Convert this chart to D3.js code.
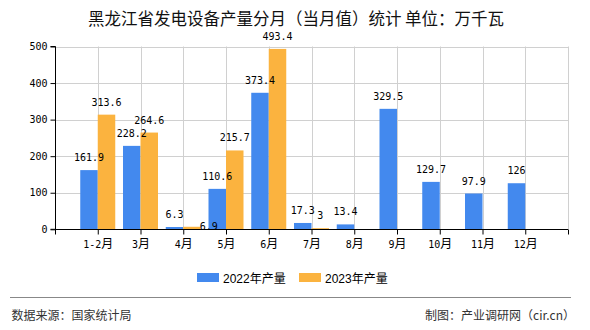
<!DOCTYPE html>
<html>
<head>
<meta charset="utf-8">
<script src="https://cdn.jsdelivr.net/npm/d3@7/dist/d3.min.js"></script>
<style>
  html, body { margin: 0; padding: 0; background: #fff; }
  svg { display: block; }
</style>
</head>
<body>
<svg id="chart" width="590" height="330"></svg>
<script>
// ---- data ----
const categories = ["1-2月", "3月", "4月", "5月", "6月", "7月", "8月", "9月", "10月", "11月", "12月"];
const values2022 = [161.9, 228.2, 6.3, 110.6, 373.4, 17.3, 13.4, 329.5, 129.7, 97.9, 126];
const values2023 = [313.6, 264.6, 6.9, 215.7, 493.4, 3, null, null, null, null, null];
const seriesNames = ["2022年产量", "2023年产量"];
const yTicks = [0, 100, 200, 300, 400, 500];
const titleText = "黑龙江省发电设备产量分月（当月值）统计 单位：万千瓦";
const sourceText = "数据来源：国家统计局";
const creditText = "制图：产业调研网（cir.cn）";

(function() {
// ---- layout ----
const colors = ["#4389ee", "#fbb33f"];
const svg = d3.select("#chart");
const pL = 55, pR = 568, pT = 46.5, pB = 229.3;
const monoFont = "'DejaVu Sans Mono', 'Liberation Mono', monospace";
const cjkFont = "'Noto Sans CJK SC', sans-serif";

const x = d3.scalePoint().domain(["__s", ...categories, "__e"]).range([pL, pR]);
const y = d3.scaleLinear().domain([0, 500]).range([pB, pT]);
const bw = 17.5;

// title
svg.append("text").attr("x", 296).attr("y", 25).attr("text-anchor", "middle")
  .attr("font-family", cjkFont).attr("font-size", 16.5).attr("fill", "#111")
  .text(titleText);

// gridlines
const g = svg.append("g");
g.selectAll("line.hg").data(yTicks.filter(d => d > 0)).join("line")
  .attr("x1", pL).attr("x2", pR)
  .attr("y1", d => Math.round(y(d)) + 0.5).attr("y2", d => Math.round(y(d)) + 0.5)
  .attr("stroke", "#d0d0d0").attr("stroke-width", 1);
g.selectAll("line.vg").data([...categories, "__e"]).join("line")
  .attr("x1", d => Math.round(x(d)) + 0.5).attr("x2", d => Math.round(x(d)) + 0.5)
  .attr("y1", pT).attr("y2", pB)
  .attr("stroke", "#d0d0d0").attr("stroke-width", 1);

// bars
const series = [values2022, values2023];
series.forEach((vals, si) => {
  svg.append("g").selectAll("rect").data(categories.map((c, i) => ({c, v: vals[i]})).filter(d => d.v != null))
    .join("rect")
    .attr("x", d => si === 0 ? x(d.c) - bw : x(d.c))
    .attr("width", bw)
    .attr("y", d => y(d.v))
    .attr("height", d => y(0) - y(d.v))
    .attr("fill", colors[si]);
});

// axes
const yAxis = d3.axisLeft(y).tickValues(yTicks).tickSize(5).tickPadding(3).tickFormat(d3.format("d"));
const ya = svg.append("g").attr("transform", `translate(${pL + 0.5},0)`).call(yAxis);
ya.select(".domain").attr("stroke", "#000").attr("d", `M-5,${pT}H0V${pB}H-5`);
ya.selectAll(".tick line").attr("stroke", "#000");
ya.selectAll(".tick text").attr("font-family", monoFont).attr("font-size", 10).attr("fill", "#000");

const xAxis = d3.axisBottom(x).tickSize(5).tickPadding(4).tickFormat(d => d.startsWith("__") ? "" : d);
const xa = svg.append("g").attr("transform", `translate(0,${Math.round(pB) + 0.5})`).call(xAxis);
xa.select(".domain").attr("stroke", "#000").attr("d", `M${pL},0H${pR}`);
xa.selectAll(".tick line").attr("stroke", "#000");
xa.selectAll(".tick text").each(function(d) {
  const t = d3.select(this);
  t.text(null).attr("fill", "#000").attr("dy", "0.9em").attr("font-size", 10);
  if (d.startsWith("__")) return;
  const num = d.replace("月", "");
  t.append("tspan").attr("font-family", monoFont).attr("font-size", 10).text(num);
  t.append("tspan").attr("font-family", cjkFont).attr("font-size", 12).text("月");
});

// value labels with simple collision handling
const charW = 6.02, labH = 8;
const labels = [];
series.forEach((vals, si) => {
  categories.forEach((c, i) => {
    const v = vals[i];
    if (v == null) return;
    const txt = String(v);
    const cx = si === 0 ? x(c) - bw / 2 : x(c) + bw / 2;
    const by = y(v) - 9;
    const w = txt.length * charW;
    labels.push({si, i, txt, cx, by, w, anchor: "middle", v, c});
  });
});
labels.filter(l => l.si === 1).forEach(l => {
  const other = labels.find(o => o.si === 0 && o.i === l.i);
  if (!other) return;
  const pad = 1;
  const hOverlap = (l.cx - l.w / 2) < (other.cx + other.w / 2 + pad) && (other.cx - other.w / 2 - pad) < (l.cx + l.w / 2);
  const vOverlap = (l.by - labH) < other.by && (other.by - labH) < l.by;
  if (hOverlap && vOverlap) {
    l.anchor = "start";
    l.cx = x(l.c) + bw - 1;
    l.by = y(l.v) + 3.5;
  }
});
svg.append("g").selectAll("text").data(labels).join("text")
  .attr("x", d => d.cx).attr("y", d => d.by)
  .attr("text-anchor", d => d.anchor)
  .attr("font-family", monoFont).attr("font-size", 10).attr("fill", "#000")
  .text(d => d.txt);

// legend
const legendX = [197, 299];
seriesNames.forEach((name, i) => {
  const lg = svg.append("g").attr("transform", `translate(${legendX[i]},273)`);
  lg.append("rect").attr("width", 22).attr("height", 9).attr("fill", colors[i]);
  lg.append("text").attr("x", 26).attr("y", 9.5)
    .attr("font-family", "'Liberation Sans', 'Noto Sans CJK SC', sans-serif")
    .attr("font-size", 12).attr("fill", "#000").text(name);
});

// footer
svg.append("line").attr("x1", 10).attr("x2", 571).attr("y1", 297.5).attr("y2", 297.5)
  .attr("stroke", "#888").attr("stroke-width", 1);
svg.append("text").attr("x", 11.5).attr("y", 320).attr("font-family", cjkFont)
  .attr("font-size", 12).attr("fill", "#333").text(sourceText);
svg.append("text").attr("x", 575).attr("y", 320).attr("text-anchor", "end").attr("font-family", cjkFont)
  .attr("font-size", 12).attr("fill", "#333").text(creditText);
})();
</script>
</body>
</html>
